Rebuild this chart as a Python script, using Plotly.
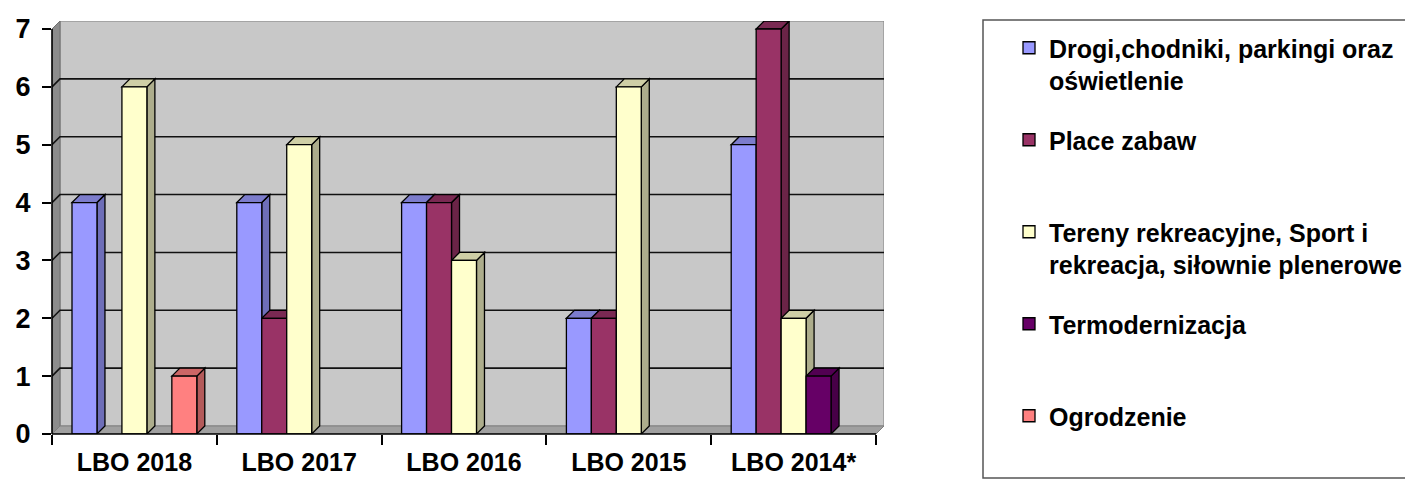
import plotly.graph_objects as go

# ---------------- data ----------------
categories = ["LBO 2018", "LBO 2017", "LBO 2016", "LBO 2015", "LBO 2014*"]
series_names = [
    "Drogi,chodniki, parkingi oraz<br>oświetlenie",
    "Place zabaw<br> ",
    "Tereny rekreacyjne, Sport i<br>rekreacja, siłownie plenerowe",
    "Termodernizacja<br> ",
    "Ogrodzenie<br> ",
]
drogi = [4, 4, 4, 2, 5]
place_zabaw = [0, 2, 4, 2, 7]
tereny = [6, 5, 3, 6, 2]
termomodernizacja = [0, 0, 0, 0, 1]
ogrodzenie = [1, 0, 0, 0, 0]
y_tick_values = [0, 1, 2, 3, 4, 5, 6, 7]

series_values = [drogi, place_zabaw, tereny, termomodernizacja, ogrodzenie]

# ---------------- style ----------------
front_colors = ["#9999FF", "#993366", "#FFFFCC", "#660066", "#FF8080"]
side_colors = ["#6E6EB8", "#6B2447", "#ADAD8C", "#470047", "#B35A5A"]
top_colors = ["#7C7CCC", "#7A2952", "#CFCFA6", "#520052", "#CC6666"]
FONT = "Arial, Liberation Sans, sans-serif"

# the page body has an 8px default margin: work in page pixels, then shift
PAGE_OFF = 8
VIEW_W, VIEW_H = 1413, 479
W, H = VIEW_W - PAGE_OFF, VIEW_H - PAGE_OFF
LEFT_PX, FRONT_RIGHT_PX, TOP7_PX, BASE_PX = 52 - PAGE_OFF, 876 - PAGE_OFF, 29 - PAGE_OFF, 434 - PAGE_OFF
DEPTH_X_PX, DEPTH_Y_PX = 8, 8
n_cat = len(categories)
cat_px = (FRONT_RIGHT_PX - LEFT_PX) / n_cat
unit_px = (BASE_PX - TOP7_PX) / 7.0
DX = DEPTH_X_PX / cat_px
DY = DEPTH_Y_PX / unit_px
YMAX = 7
x_range = [-0.5, n_cat - 0.5 + DX]
y_range = [0, YMAX + DY]
plot_w = (x_range[1] - x_range[0]) * cat_px
plot_h = (y_range[1] - y_range[0]) * unit_px
margin_l = LEFT_PX
margin_r = W - (LEFT_PX + plot_w)
margin_b = H - BASE_PX
margin_t = H - margin_b - plot_h

BARGAP = 0.2427
n_ser = len(series_values)
bar_w = (1 - BARGAP) / n_ser

# legend frame (page pixels -> figure pixels)
LEG_BOX_L, LEG_BOX_T, LEG_BOX_B = 983 - PAGE_OFF, 20 - PAGE_OFF, 478 - PAGE_OFF
LEG_TEXT_L = 1050 - PAGE_OFF


def paper_x_px(px):
    return (px - LEFT_PX) / plot_w


def paper_y_px(py):
    return (BASE_PX - py) / plot_h


def px_x(v):
    return (v - x_range[0]) / (x_range[1] - x_range[0])


def px_y(v):
    return (v - y_range[0]) / (y_range[1] - y_range[0])


fig = go.Figure()

shapes = []
# walls
back_wall = f"M {x_range[0]+DX},{DY} L {x_range[1]},{DY} L {x_range[1]},{YMAX+DY} L {x_range[0]+DX},{YMAX+DY} Z"
shapes.append(dict(type="path", path=back_wall, xref="x", yref="y", fillcolor="#C8C8C8",
                   line=dict(color="#808080", width=1), layer="below"))
side_wall = f"M {x_range[0]},0 L {x_range[0]+DX},{DY} L {x_range[0]+DX},{YMAX+DY} L {x_range[0]},{YMAX} Z"
shapes.append(dict(type="path", path=side_wall, xref="x", yref="y", fillcolor="#8C8C8C",
                   line=dict(color="#707070", width=1), layer="below"))
floor = f"M {x_range[0]},0 L {n_cat-0.5},0 L {x_range[1]},{DY} L {x_range[0]+DX},{DY} Z"
shapes.append(dict(type="path", path=floor, xref="x", yref="y", fillcolor="#A0A0A0",
                   line=dict(color="#808080", width=1), layer="below"))
# gridlines (side wall diagonal + back wall)
for v in y_tick_values[1:-1]:
    p = f"M {x_range[0]},{v} L {x_range[0]+DX},{v+DY} L {x_range[1]},{v+DY}"
    shapes.append(dict(type="path", path=p, xref="x", yref="y",
                       line=dict(color="#111111", width=1.6), layer="below"))

# 3D faces of bars (top + side), drawn under the bar fronts
for i, vals in enumerate(series_values):
    for c, v in enumerate(vals):
        if not v:
            continue
        xc = c + (i - (n_ser - 1) / 2) * bar_w
        xl, xr = xc - bar_w / 2, xc + bar_w / 2
        side = f"M {xr},0 L {xr},{v} L {xr+DX},{v+DY} L {xr+DX},{DY} Z"
        top = f"M {xl},{v} L {xl+DX},{v+DY} L {xr+DX},{v+DY} L {xr},{v} Z"
        shapes.append(dict(type="path", path=side, xref="x", yref="y", fillcolor=side_colors[i],
                           line=dict(color="black", width=1.3), layer="below"))
        shapes.append(dict(type="path", path=top, xref="x", yref="y", fillcolor=top_colors[i],
                           line=dict(color="black", width=1.3), layer="below"))

# front axis lines
shapes.append(dict(type="line", xref="paper", yref="paper", x0=0, x1=0, y0=0, y1=px_y(YMAX),
                   line=dict(color="black", width=1.6), layer="above"))
shapes.append(dict(type="line", xref="paper", yref="paper", x0=0, x1=px_x(n_cat - 0.5), y0=0, y1=0,
                   line=dict(color="black", width=1.6), layer="above"))

# legend frame
shapes.append(dict(type="rect", xref="paper", yref="paper",
                   x0=paper_x_px(LEG_BOX_L), x1=paper_x_px(W + 5),
                   y0=paper_y_px(LEG_BOX_B), y1=paper_y_px(LEG_BOX_T),
                   line=dict(color="#555555", width=1.5), fillcolor="rgba(0,0,0,0)", layer="above"))

# bar fronts
for i, vals in enumerate(series_values):
    fig.add_trace(go.Bar(
        x=list(range(n_cat)),
        y=[v if v else None for v in vals],
        name=series_names[i],
        legendgroup=f"g{i}",
        marker=dict(color=front_colors[i], line=dict(color="black", width=1.3)),
    ))

fig.update_layout(
    width=W, height=H,
    margin=dict(l=margin_l, r=margin_r, t=margin_t, b=margin_b, pad=0, autoexpand=False),
    paper_bgcolor="white", plot_bgcolor="white",
    barmode="group", bargap=BARGAP, bargroupgap=0,
    shapes=shapes,
    showlegend=True,
    legend=dict(
        x=paper_x_px(LEG_TEXT_L - 41), xanchor="left",
        y=paper_y_px(LEG_BOX_T + 5), yanchor="top",
        font=dict(family=FONT, size=25, color="black", weight="bold"),
        borderwidth=0, bgcolor="rgba(0,0,0,0)",
        tracegroupgap=24, valign="top", traceorder="grouped",
        maxheight=470,
    ),
    xaxis=dict(
        range=x_range, showgrid=False, zeroline=False, showline=False,
        tickmode="array", tickvals=list(range(n_cat)), ticktext=categories,
        ticks="", ticklabelstandoff=11,
        tickfont=dict(family=FONT, size=25, color="black", weight="bold"),
        minor=dict(tickmode="array", tickvals=[c - 0.5 for c in range(n_cat + 1)],
                   ticks="outside", ticklen=10, tickwidth=1.5, tickcolor="black", showgrid=False),
    ),
    yaxis=dict(
        range=y_range, showgrid=False, zeroline=False, showline=False,
        tickmode="array", tickvals=y_tick_values,
        ticks="outside", ticklen=9, tickwidth=1.5, tickcolor="black",
        tickfont=dict(family=FONT, size=27, color="black", weight="bold"),
        ticklabelstandoff=6,
    ),
)

fig.write_html("out.html")
